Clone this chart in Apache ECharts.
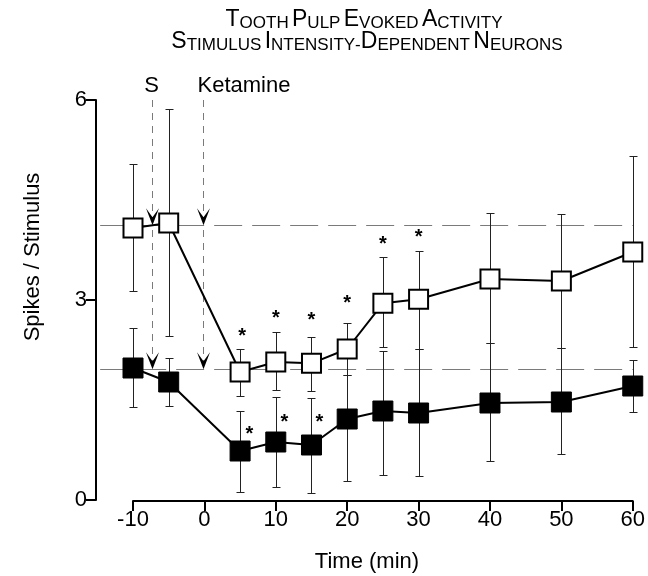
<!DOCTYPE html>
<html>
<head>
<meta charset="utf-8">
<script src="https://cdn.jsdelivr.net/npm/echarts@6/dist/echarts.min.js"></script>
<style>html,body{margin:0;padding:0;background:#fff}#c{width:648px;height:576px}</style>
</head>
<body>
<div id="c"></div>
<script>
// ---- data ----
var times = [-10, -5, 5, 10, 15, 20, 25, 30, 40, 50, 60];
var openMean = [4.08, 4.155, 1.92, 2.07, 2.05, 2.265, 2.95, 3.01, 3.315, 3.285, 3.72];
var openHigh = [5.04, 5.86, 2.265, 2.52, 2.445, 2.66, 3.645, 3.735, 4.30, 4.29, 5.16];
var openLow  = [3.13, 2.46, 1.56, 1.65, 1.635, 1.875, 2.30, 2.27, 2.35, 2.28, 2.30];
var filledMean = [1.98, 1.77, 0.735, 0.87, 0.825, 1.215, 1.335, 1.305, 1.455, 1.47, 1.71];
var filledHigh = [2.58, 2.13, 1.335, 1.545, 1.53, 1.875, 2.24, 2.27, 2.35, 2.28, 2.10];
var filledLow  = [1.395, 1.41, 0.12, 0.195, 0.105, 0.285, 0.375, 0.36, 0.585, 0.69, 1.32];
var openStarX = [5.3, 10, 15, 20, 25, 30];
var openStarY = [2.535, 2.805, 2.775, 3.03, 3.915, 4.02];
var filledStarX = [6.3, 11.2, 16.1];
var filledStarY = [1.065, 1.245, 1.245];
var refLevels = [4.12, 1.96];
var refStartX = -14.6;
var eventTimes = [-7.35, -0.25];
var eventLabels = ['S', 'Ketamine'];
var xTicks = [-10, 0, 10, 20, 30, 40, 50, 60];
var yTicks = [0, 3, 6];
var titleLine1 = '{b|T}{s|OOTH} {b|P}{s|ULP} {b|E}{s|VOKED} {b|A}{s|CTIVITY}';
var titleLine2 = '{b|S}{s|TIMULUS} {b|I}{s|NTENSITY}{s|-}{b|D}{s|EPENDENT} {b|N}{s|EURONS}';
var xName = 'Time (min)';
var yName = 'Spikes / Stimulus';

var FONT = '"Liberation Sans", Arial, Helvetica, sans-serif';

function errorBars(mean, lo, hi) {
  return {
    type: 'custom',
    z: 1,
    silent: true,
    encode: { x: 0, y: [1, 2] },
    data: times.map(function (t, i) { return [t, lo[i], hi[i]]; }),
    renderItem: function (params, api) {
      var x = api.value(0);
      var pLo = api.coord([x, api.value(1)]);
      var pHi = api.coord([x, api.value(2)]);
      var px = Math.round(pLo[0]) + 0.5;
      var yl = Math.round(pLo[1]) + 0.5, yh = Math.round(pHi[1]) + 0.5;
      var w = 4;
      var st = { stroke: '#222', lineWidth: 1 };
      return { type: 'group', children: [
        { type: 'line', shape: { x1: px, y1: yl, x2: px, y2: yh }, style: st },
        { type: 'line', shape: { x1: px - w, y1: yl, x2: px + w, y2: yl }, style: st },
        { type: 'line', shape: { x1: px - w, y1: yh, x2: px + w, y2: yh }, style: st }
      ]};
    }
  };
}

function stars(xs, ys) {
  return {
    type: 'custom',
    z: 5,
    silent: true,
    encode: { x: 0, y: 1 },
    data: xs.map(function (x, i) { return [x, ys[i]]; }),
    renderItem: function (params, api) {
      var p = api.coord([api.value(0), api.value(1)]);
      return { type: 'text', x: p[0], y: p[1] + 5, style: {
        text: '*', fill: '#000', font: 'bold 20px ' + FONT, align: 'center', verticalAlign: 'middle' } };
    }
  };
}

var chart = echarts.init(document.getElementById('c'), null, { renderer: 'canvas' });

var titleRich = {
  b: { fontSize: 23, fontFamily: FONT, verticalAlign: 'bottom' },
  s: { fontSize: 17, fontFamily: FONT, verticalAlign: 'bottom' }
};

var option = {
  animation: false,
  backgroundColor: '#fff',
  grid: { left: 133, right: 13, top: 100, bottom: 76, containLabel: false },
  xAxis: {
    type: 'value', min: -10, max: 60, interval: 10, offset: 1,
    axisLine: { show: true, onZero: false, lineStyle: { color: '#000', width: 2 } },
    axisTick: { show: true, length: 10, lineStyle: { color: '#000', width: 2 } },
    axisLabel: { fontSize: 22, color: '#000', margin: 8, fontFamily: FONT,
      formatter: function (v) { return xTicks.indexOf(v) >= 0 ? String(v) : ''; } },
    splitLine: { show: false }
  },
  yAxis: {
    type: 'value', min: 0, max: 6, interval: 3, offset: 37,
    axisLine: { show: true, onZero: false, lineStyle: { color: '#000', width: 2 } },
    axisTick: { show: true, length: 10, lineStyle: { color: '#000', width: 2 } },
    axisLabel: { fontSize: 22, color: '#000', margin: 9, fontFamily: FONT,
      formatter: function (v) { return yTicks.indexOf(v) >= 0 ? String(v) : ''; } },
    splitLine: { show: false }
  },
  graphic: [
    { type: 'text', x: 364, y: 20, style: { text: titleLine1, align: 'center', verticalAlign: 'middle', fill: '#000', rich: titleRich } },
    { type: 'text', x: 367, y: 42, style: { text: titleLine2, align: 'center', verticalAlign: 'middle', fill: '#000', rich: titleRich } },
    { type: 'text', x: 33, y: 257, rotation: Math.PI / 2, style: { text: yName, align: 'center', verticalAlign: 'middle',
      fill: '#000', font: '22px ' + FONT } },
    { type: 'text', x: 367, y: 562, style: { text: xName, align: 'center', verticalAlign: 'middle',
      fill: '#000', font: '22px ' + FONT } }
  ],
  series: [
    // horizontal reference lines
    {
      type: 'custom', z: 0, silent: true, encode: { x: 0, y: 1 },
      data: refLevels.map(function (v) { return [refStartX, v]; }),
      renderItem: function (params, api) {
        var a = api.coord([api.value(0), api.value(1)]);
        var b = api.coord([60, api.value(1)]);
        var y = Math.round(a[1]) + 0.5;
        return { type: 'line', shape: { x1: a[0], y1: y, x2: b[0], y2: y },
          style: { stroke: '#7a7a7a', lineWidth: 1, lineDash: [28, 10] } };
      }
    },
    // vertical event lines with arrows and labels
    {
      type: 'custom', z: 0, silent: true, encode: { x: 0, y: 1 },
      data: eventTimes.map(function (t, i) { return [t, 6, i]; }),
      renderItem: function (params, api) {
        var t = api.value(0);
        var top = api.coord([t, api.value(1)]);
        var hi = api.coord([t, refLevels[0]]);
        var lo = api.coord([t, refLevels[1]]);
        var x = Math.round(top[0]) + 0.5;
        var idx = api.value(2);
        function chev(yTip) {
          return { type: 'polygon', shape: { points: [[x, yTip], [x - 6.5, yTip - 17], [x, yTip - 8], [x + 6.5, yTip - 17]] },
            style: { fill: '#000' } };
        }
        var label = eventLabels[idx];
        return { type: 'group', children: [
          { type: 'line', shape: { x1: x, y1: top[1], x2: x, y2: lo[1] - 6 },
            style: { stroke: '#7a7a7a', lineWidth: 1, lineDash: [7, 6] } },
          chev(hi[1]), chev(lo[1]),
          { type: 'text', x: idx === 0 ? x - 1 : x - 6, y: top[1] - 14,
            style: { text: label, fill: '#000', font: '22px ' + FONT, align: idx === 0 ? 'center' : 'left', verticalAlign: 'middle' } }
        ]};
      }
    },
    errorBars(openMean, openLow, openHigh),
    errorBars(filledMean, filledLow, filledHigh),
    {
      type: 'line', z: 3, name: 'filled',
      data: times.map(function (t, i) { return [t, filledMean[i]]; }),
      symbol: 'rect', symbolSize: 20,
      lineStyle: { color: '#000', width: 2 },
      itemStyle: { color: '#000', borderColor: '#000', borderWidth: 1 }
    },
    {
      type: 'line', z: 4, name: 'open',
      data: times.map(function (t, i) { return [t, openMean[i]]; }),
      symbol: 'rect', symbolSize: 19,
      lineStyle: { color: '#000', width: 2 },
      itemStyle: { color: '#fff', borderColor: '#000', borderWidth: 2 }
    },
    stars(openStarX, openStarY),
    stars(filledStarX, filledStarY)
  ]
};
chart.setOption(option);
</script>
</body>
</html>
